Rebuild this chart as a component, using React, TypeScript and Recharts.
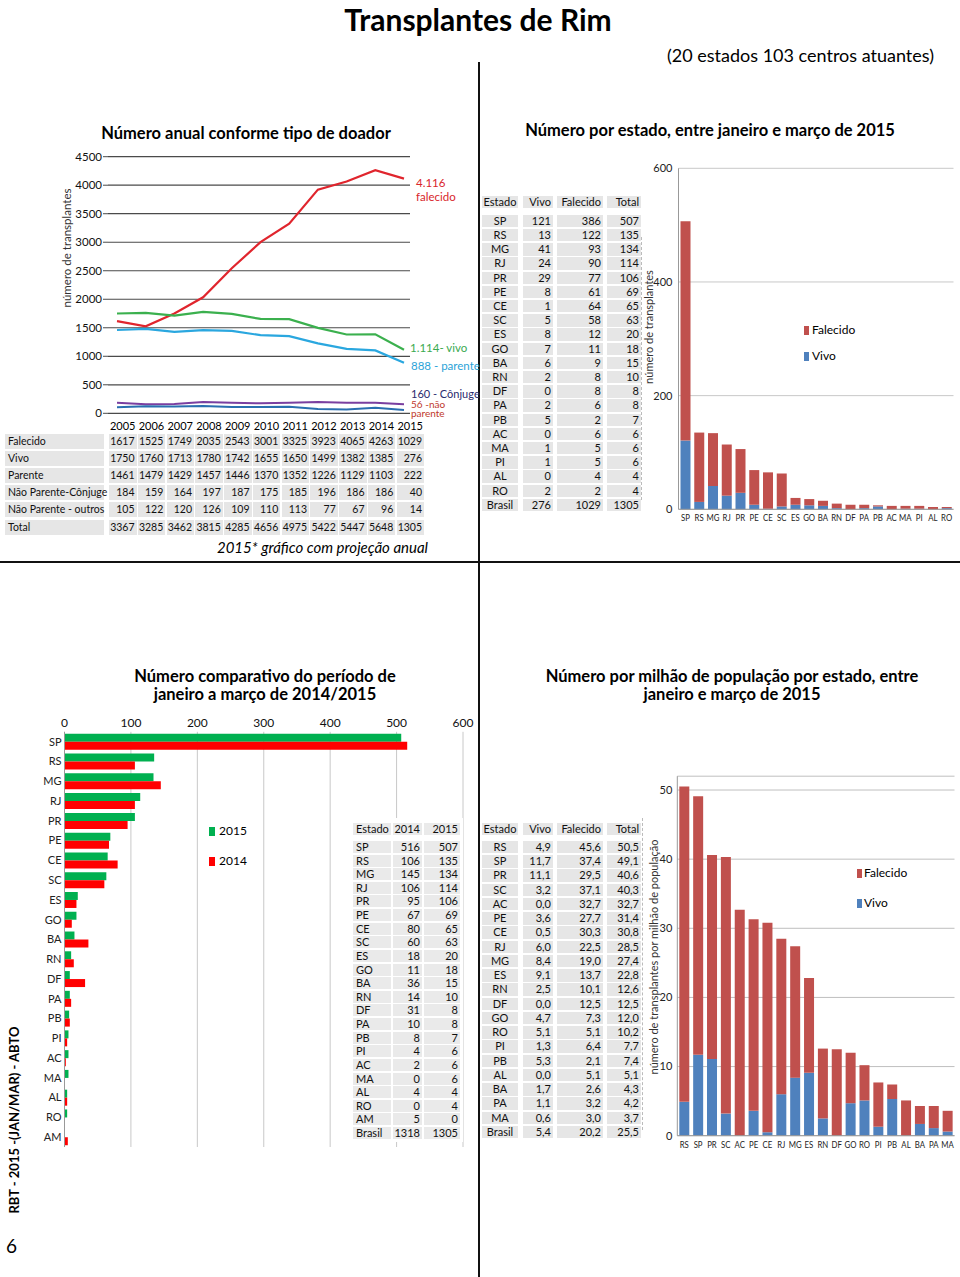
import React from 'react';
import { LineChart, Line, XAxis, YAxis, CartesianGrid, BarChart, Bar } from 'recharts';

const FONT = 'Lato, "Open Sans", sans-serif';

// ---- Annual data by donor type ----
const years = ['2005', '2006', '2007', '2008', '2009', '2010', '2011', '2012', '2013', '2014', '2015'];
const falecidoAnual = [1617, 1525, 1749, 2035, 2543, 3001, 3325, 3923, 4065, 4263, 1029];
const vivoAnual = [1750, 1760, 1713, 1780, 1742, 1655, 1650, 1499, 1382, 1385, 276];
const parenteAnual = [1461, 1479, 1429, 1457, 1446, 1370, 1352, 1226, 1129, 1103, 222];
const conjugeAnual = [184, 159, 164, 197, 187, 175, 185, 196, 186, 186, 40];
const outrosAnual = [105, 122, 120, 126, 109, 110, 113, 77, 67, 96, 14];
const totalAnual = [3367, 3285, 3462, 3815, 4285, 4656, 4975, 5422, 5447, 5648, 1305];
// 2015 annual projection used in the graph
const proj2015Falecido = 4116;
const proj2015Vivo = 1114;
const proj2015Parente = 888;
const proj2015Conjuge = 160;
const proj2015Outros = 56;

// ---- By state, Jan-Mar 2015 ----
const estadosQ = ['SP', 'RS', 'MG', 'RJ', 'PR', 'PE', 'CE', 'SC', 'ES', 'GO', 'BA', 'RN', 'DF', 'PA', 'PB', 'AC', 'MA', 'PI', 'AL', 'RO'];
const vivoQ = [121, 13, 41, 24, 29, 8, 1, 5, 8, 7, 6, 2, 0, 2, 5, 0, 1, 1, 0, 2];
const falecidoQ = [386, 122, 93, 90, 77, 61, 64, 58, 12, 11, 9, 8, 8, 6, 2, 6, 5, 5, 4, 2];
const totalQ = [507, 135, 134, 114, 106, 69, 65, 63, 20, 18, 15, 10, 8, 8, 7, 6, 6, 6, 4, 4];
const brasilQ = [276, 1029, 1305];

// ---- Comparative 2014/2015 ----
const estadosComp = ['SP', 'RS', 'MG', 'RJ', 'PR', 'PE', 'CE', 'SC', 'ES', 'GO', 'BA', 'RN', 'DF', 'PA', 'PB', 'PI', 'AC', 'MA', 'AL', 'RO', 'AM'];
const comp2014 = [516, 106, 145, 106, 95, 67, 80, 60, 18, 11, 36, 14, 31, 10, 8, 4, 2, 0, 4, 0, 5];
const comp2015 = [507, 135, 134, 114, 106, 69, 65, 63, 20, 18, 15, 10, 8, 8, 7, 6, 6, 6, 4, 4, 0];
const brasilComp = [1318, 1305];

// ---- Per million population ----
const estadosPmp = ['RS', 'SP', 'PR', 'SC', 'AC', 'PE', 'CE', 'RJ', 'MG', 'ES', 'RN', 'DF', 'GO', 'RO', 'PI', 'PB', 'AL', 'BA', 'PA', 'MA'];
const vivoPmp = [4.9, 11.7, 11.1, 3.2, 0.0, 3.6, 0.5, 6.0, 8.4, 9.1, 2.5, 0.0, 4.7, 5.1, 1.3, 5.3, 0.0, 1.7, 1.1, 0.6];
const falecidoPmp = [45.6, 37.4, 29.5, 37.1, 32.7, 27.7, 30.3, 22.5, 19.0, 13.7, 10.1, 12.5, 7.3, 5.1, 6.4, 2.1, 5.1, 2.6, 3.2, 3.0];
const totalPmp = [50.5, 49.1, 40.6, 40.3, 32.7, 31.4, 30.8, 28.5, 27.4, 22.8, 12.6, 12.5, 12.0, 10.2, 7.7, 7.4, 5.1, 4.3, 4.2, 3.7];
const brasilPmp = [5.4, 20.2, 25.5];

const lineData = years.map((y, i) => {
  const last = i === years.length - 1;
  return {
    year: y,
    falecido: last ? proj2015Falecido : falecidoAnual[i],
    vivo: last ? proj2015Vivo : vivoAnual[i],
    parente: last ? proj2015Parente : parenteAnual[i],
    conjuge: last ? proj2015Conjuge : conjugeAnual[i],
    outros: last ? proj2015Outros : outrosAnual[i],
  };
});
const stateData = estadosQ.map((e, i) => ({ estado: e, vivo: vivoQ[i], falecido: falecidoQ[i] }));
const compData = estadosComp.map((e, i) => ({ estado: e, a2015: comp2015[i], a2014: comp2014[i] }));
const pmpData = estadosPmp.map((e, i) => ({ estado: e, vivo: vivoPmp[i], falecido: falecidoPmp[i] }));

const fmt1 = (v: number) => v.toFixed(1).replace('.', ',');

type Anchor = 'start' | 'middle' | 'end';
function Txt(props: { x: number; y: number; children: React.ReactNode; size?: number; weight?: number; color?: string; anchor?: Anchor; italic?: boolean; rotate?: boolean }) {
  const { x, y, children, size = 12, weight = 400, color = '#000', anchor = 'start', italic = false, rotate = false } = props;
  const tx = rotate ? '-50%' : anchor === 'start' ? '0' : anchor === 'middle' ? '-50%' : '-100%';
  return (
    <div
      style={{
        position: 'absolute', left: x, top: y,
        transform: `translate(${tx},-50%)${rotate ? ' rotate(-90deg)' : ''}`,
        fontSize: size, fontWeight: weight, color, whiteSpace: 'nowrap', lineHeight: 1,
        fontStyle: italic ? 'italic' : 'normal', fontFamily: FONT,
      }}
    >
      {children}
    </div>
  );
}

type Col = { x: number; w: number; align: 'left' | 'right' | 'center' };
function Grid(props: { cols: Col[]; rows: string[][]; ys: number[]; h: number; size: number; bg?: string }) {
  const { cols, rows, ys, h, size, bg = '#E6E6E6' } = props;
  const out: React.ReactNode[] = [];
  rows.forEach((r, ri) => {
    r.forEach((cell, ci) => {
      const c = cols[ci];
      out.push(
        <div
          key={ri + '-' + ci}
          style={{
            position: 'absolute', left: c.x, top: ys[ri] - h / 2, width: c.w, height: h,
            background: bg, fontSize: size, lineHeight: h + 'px',
            textAlign: c.align, fontFamily: FONT, color: '#111', boxSizing: 'border-box',
            paddingLeft: c.align === 'left' ? 3 : 0, paddingRight: c.align === 'right' ? 2 : 0, whiteSpace: 'nowrap', overflow: 'visible',
          }}
        >
          {cell}
        </div>,
      );
    });
  });
  return <>{out}</>;
}

function Sq({ x, y, color, w = 6, h = 9 }: { x: number; y: number; color: string; w?: number; h?: number }) {
  return <div style={{ position: 'absolute', left: x, top: y - h / 2, width: w, height: h, background: color }} />;
}

// narrow category tick (condensed look of the original font)
function NarrowTick(props: any) {
  const { x, y, payload } = props;
  return (
    <g transform={`translate(${x},${y})`}>
      <text x={0} y={0} dy="0.8em" textAnchor="middle" fontSize={10} fill="#222" transform="scale(0.78,1)" fontFamily={FONT}>
        {payload.value}
      </text>
    </g>
  );
}

export default function App() {
  const tlCols: Col[] = [{ x: 5, w: 99, align: 'left' }, ...years.map((_, i) => ({ x: 109 + i * 28.75, w: 27.5, align: 'right' as const }))];
  const tlRows = [
    ['Falecido', ...falecidoAnual.map(String)],
    ['Vivo', ...vivoAnual.map(String)],
    ['Parente', ...parenteAnual.map(String)],
    ['Não Parente-Cônjuge', ...conjugeAnual.map(String)],
    ['Não Parente - outros', ...outrosAnual.map(String)],
    ['Total', ...totalAnual.map(String)],
  ];
  const tlYs = [441, 458.2, 475.4, 492.6, 509.8, 527];

  const trCols: Col[] = [
    { x: 482, w: 36, align: 'center' }, { x: 523, w: 30, align: 'right' },
    { x: 557, w: 46, align: 'right' }, { x: 607, w: 34, align: 'right' },
  ];
  const trRows = [
    ['Estado', 'Vivo', 'Falecido', 'Total'],
    ...estadosQ.map((e, i) => [e, String(vivoQ[i]), String(falecidoQ[i]), String(totalQ[i])]),
    ['Brasil', ...brasilQ.map(String)],
  ];
  const trYs = [202, ...trRows.slice(1).map((_, i) => 221 + i * 14.2)];

  const bmCols: Col[] = [
    { x: 353, w: 38, align: 'left' }, { x: 393, w: 29, align: 'right' }, { x: 424, w: 36, align: 'right' },
  ];
  const bmRows = [
    ['Estado', '2014', '2015'],
    ...estadosComp.map((e, i) => [e, String(comp2014[i]), String(comp2015[i])]),
    ['Brasil', ...brasilComp.map(String)],
  ];
  const bmYs = [829, ...bmRows.slice(1).map((_, i) => 847 + i * 13.62)];

  const brRows = [
    ['Estado', 'Vivo', 'Falecido', 'Total'],
    ...estadosPmp.map((e, i) => [e, fmt1(vivoPmp[i]), fmt1(falecidoPmp[i]), fmt1(totalPmp[i])]),
    ['Brasil', ...brasilPmp.map(fmt1)],
  ];
  const brYs = [829, ...brRows.slice(1).map((_, i) => 847 + i * 14.25)];

  const axisTick = { fontSize: 11, fill: '#222' };

  return (
    <div style={{ position: 'absolute', left: 0, top: 0, width: 960, height: 1277, overflow: 'hidden', background: '#fff', fontFamily: FONT }}>
      {/* separators */}
      <div style={{ position: 'absolute', left: 478, top: 62, width: 2, height: 1215, background: '#111' }} />
      <div style={{ position: 'absolute', left: 0, top: 561, width: 960, height: 2, background: '#111' }} />
      <div style={{ position: 'absolute', left: 641, top: 237, width: 0, height: 263, borderLeft: '1px dashed #bbb' }} />
      <div style={{ position: 'absolute', left: 642, top: 818, width: 0, height: 312, borderLeft: '1px dashed #bbb' }} />

      {/* titles */}
      <Txt x={478} y={19} size={30} weight={700} anchor="middle">Transplantes de Rim</Txt>
      <Txt x={934} y={55} size={18} anchor="end">(20 estados 103 centros atuantes)</Txt>
      <Txt x={246} y={133} size={16.5} weight={700} anchor="middle">Número anual conforme tipo de doador</Txt>
      <Txt x={710} y={130} size={16.5} weight={700} anchor="middle">Número por estado, entre janeiro e março de 2015</Txt>
      <Txt x={265} y={676} size={16.5} weight={700} anchor="middle">Número comparativo do período de</Txt>
      <Txt x={265} y={694} size={16.5} weight={700} anchor="middle">janeiro a março de 2014/2015</Txt>
      <Txt x={732} y={676} size={16.5} weight={700} anchor="middle">Número por milhão de população por estado, entre</Txt>
      <Txt x={732} y={694} size={16.5} weight={700} anchor="middle">janeiro e março de 2015</Txt>
      <Txt x={14} y={1120} size={13} weight={700} rotate>RBT - 2015 -(JAN/MAR) - ABTO</Txt>
      <Txt x={6} y={1245} size={19}>6</Txt>

      {/* top-left line chart */}
      <div style={{ position: 'absolute', left: 0, top: 140 }}>
        <LineChart width={480} height={280} data={lineData} margin={{ top: 16.7, right: 70, bottom: 6.7, left: 48 }}>
          <CartesianGrid vertical={false} stroke="#4a4a4a" strokeWidth={1.2} />
          <XAxis dataKey="year" hide padding={{ left: 9, right: 6 }} />
          <YAxis width={60} domain={[0, 4500]} ticks={[0, 500, 1000, 1500, 2000, 2500, 3000, 3500, 4000, 4500]} tick={{ fontSize: 11.5, fill: '#111' }} tickSize={5} tickMargin={1} axisLine={false} tickLine={{ stroke: '#4a4a4a' }} />
          <Line dataKey="falecido" stroke="#E0252D" strokeWidth={2.2} dot={false} isAnimationActive={false} />
          <Line dataKey="vivo" stroke="#3BB04E" strokeWidth={2.2} dot={false} isAnimationActive={false} />
          <Line dataKey="parente" stroke="#2AA7DF" strokeWidth={2.2} dot={false} isAnimationActive={false} />
          <Line dataKey="conjuge" stroke="#7A3FA0" strokeWidth={2} dot={false} isAnimationActive={false} />
          <Line dataKey="outros" stroke="#2A6FB0" strokeWidth={2} dot={false} isAnimationActive={false} />
        </LineChart>
      </div>
      <Txt x={67} y={248} size={11.5} color="#333" rotate>número de transplantes</Txt>
      <Txt x={416} y={183} size={11.5} color="#D9262B">4.116</Txt>
      <Txt x={416} y={197} size={11.5} color="#D9262B">falecido</Txt>
      <Txt x={410} y={348} size={11.5} color="#3AAA50">1.114- vivo</Txt>
      <Txt x={411} y={366} size={11.5} color="#2BA3D8">888 - parente</Txt>
      <Txt x={411} y={393} size={11} color="#2B2B6E">160 -  Cônjuge</Txt>
      <Txt x={411} y={403.5} size={10} color="#C0392B">56 -não</Txt>
      <Txt x={411} y={413} size={10} color="#C0392B">parente</Txt>

      {/* top-left table */}
      {years.map((y, i) => (
        <Txt key={y} x={109 + i * 28.75 + 13.75} y={425} size={11} anchor="middle">{y}</Txt>
      ))}
      <Grid cols={tlCols} rows={tlRows} ys={tlYs} h={15} size={10.5} />
      <Txt x={428} y={547} size={15} italic anchor="end">2015* gráfico com projeção anual</Txt>

      {/* top-right table */}
      <Grid cols={trCols} rows={trRows} ys={trYs} h={12.5} size={11} />

      {/* top-right stacked bars */}
      <div style={{ position: 'absolute', left: 640, top: 150 }}>
        <BarChart width={320} height={380} data={stateData} margin={{ top: 18.3, right: 6.5, bottom: 2.7, left: 4.5 }} barSize={10}>
          <CartesianGrid vertical={false} stroke="#C8C8C8" />
          <XAxis dataKey="estado" interval={0} height={18} tick={<NarrowTick />} tickSize={2} tickMargin={2} tickLine={false} axisLine={{ stroke: '#999' }} />
          <YAxis width={34} domain={[0, 600]} ticks={[0, 200, 400, 600]} tick={axisTick} tickSize={4} tickMargin={2} tickLine={false} axisLine={{ stroke: '#999' }} />
          <Bar dataKey="vivo" stackId="s" fill="#4F81BD" isAnimationActive={false} />
          <Bar dataKey="falecido" stackId="s" fill="#C0504D" isAnimationActive={false} />
        </BarChart>
      </div>
      <Txt x={648} y={327} size={11} color="#333" rotate>número de transplantes</Txt>
      <Sq x={804} y={330} color="#C0504D" w={5} h={9} />
      <Txt x={812} y={330} size={12}>Falecido</Txt>
      <Sq x={804} y={356} color="#4F81BD" w={5} h={9} />
      <Txt x={812} y={356} size={12}>Vivo</Txt>

      {/* bottom-left horizontal bars */}
      <div style={{ position: 'absolute', left: 0, top: 705 }}>
        <BarChart layout="vertical" width={480} height={445} data={compData} margin={{ top: 1.8, right: 17, bottom: 3, left: 24.5 }} barSize={8} barGap={0}>
          <CartesianGrid horizontal={false} stroke="#C8C8C8" />
          <XAxis type="number" orientation="top" height={25} domain={[0, 600]} ticks={[0, 100, 200, 300, 400, 500, 600]} tick={{ fontSize: 12, fill: '#111' }} tickSize={3} tickMargin={2} tickLine={false} axisLine={false} />
          <YAxis type="category" dataKey="estado" width={40} interval={0} tick={axisTick} tickSize={1} tickMargin={2} tickLine={false} axisLine={{ stroke: '#999' }} />
          <Bar dataKey="a2015" fill="#00B050" isAnimationActive={false} />
          <Bar dataKey="a2014" fill="#FF0000" isAnimationActive={false} />
        </BarChart>
      </div>
      <div style={{ position: 'absolute', left: 205, top: 815, width: 50, height: 60, background: '#fff' }} />
      <Sq x={209} y={831} color="#00B050" w={6} h={9} />
      <Txt x={219} y={831} size={12}>2015</Txt>
      <Sq x={209} y={861} color="#FF0000" w={6} h={9} />
      <Txt x={219} y={861} size={12}>2014</Txt>

      {/* bottom-middle table */}
      <div style={{ position: 'absolute', left: 350, top: 818, width: 113, height: 324, background: '#fff' }} />
      <Grid cols={bmCols} rows={bmRows} ys={bmYs} h={12} size={11} bg="#EAEAEA" />

      {/* bottom-right table */}
      <Grid cols={trCols} rows={brRows} ys={brYs} h={12.5} size={11} />

      {/* bottom-right stacked bars */}
      <div style={{ position: 'absolute', left: 640, top: 770 }}>
        <BarChart width={320} height={390} data={pmpData} margin={{ top: 6.2, right: 5.5, bottom: 6.3, left: 7.3 }} barSize={10}>
          <CartesianGrid vertical={false} stroke="#BFBFBF" />
          <XAxis dataKey="estado" interval={0} height={18} tick={<NarrowTick />} tickSize={2} tickMargin={2} tickLine={false} axisLine={{ stroke: '#999' }} />
          <YAxis width={30} domain={[0, 52]} ticks={[0, 10, 20, 30, 40, 50]} tick={axisTick} tickSize={3} tickMargin={2} tickLine={false} axisLine={{ stroke: '#999' }} />
          <Bar dataKey="vivo" stackId="p" fill="#4F81BD" isAnimationActive={false} />
          <Bar dataKey="falecido" stackId="p" fill="#C0504D" isAnimationActive={false} />
        </BarChart>
      </div>
      <Txt x={653} y={957} size={11} color="#333" rotate>número de transplantes por milhão de população</Txt>
      <Sq x={857} y={873} color="#C0504D" w={5} h={9} />
      <Txt x={864} y={873} size={12}>Falecido</Txt>
      <Sq x={857} y={903} color="#4F81BD" w={5} h={9} />
      <Txt x={864} y={903} size={12}>Vivo</Txt>
    </div>
  );
}
